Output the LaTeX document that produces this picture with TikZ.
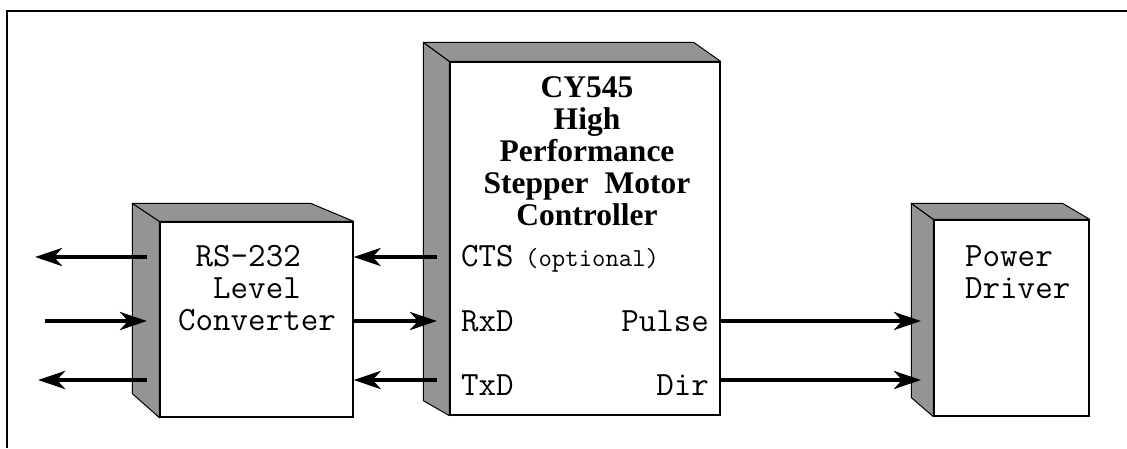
\documentclass[tikz,border=0pt]{standalone}
\usepackage{fontspec}
\setmainfont{Liberation Serif}
\usetikzlibrary{arrows.meta,calc}
\begin{document}
\begin{tikzpicture}[x=1pt,y=-1pt,
  face/.style={draw=black,line width=1.3pt,fill=white,inner sep=0pt},
  sideface/.style={draw=black,line width=1pt,fill=black!42,line join=round},
  arr/.style={line width=4.3pt,-{Stealth[length=27pt,width=18pt,inset=8pt]}},
  mono/.style={font=\ttfamily\fontsize{34}{32}\selectfont,inner sep=0pt},
  small/.style={font=\ttfamily\fontsize{26}{26}\selectfont,inner sep=0pt}]
\useasboundingbox (0,0) rectangle (1127,448);
\fill[white] (0,0) rectangle (1127,448);
\draw[line width=1.2pt] (7,448) -- (7,11) -- (1127,11);

% RS-232 box
\node[face,minimum width=193pt,minimum height=195pt] (rs) at (256.5,319.5) {};
\draw[sideface] (rs.north west) -- ++(-27,-18) -- ($(rs.south west)+(-27,-24)$) -- (rs.south west) -- cycle;
\draw[sideface] (rs.north west) -- ++(-27,-18) -- ($(rs.north east)+(-43,-18)$) -- (rs.north east) -- cycle;

% CY545 box
\node[face,minimum width=270pt,minimum height=353pt] (cy) at (585,238.5) {};
\draw[sideface] (cy.north west) -- ++(-26,-19) -- ($(cy.south west)+(-26,-15)$) -- (cy.south west) -- cycle;
\draw[sideface] (cy.north west) -- ++(-26,-19) -- ($(cy.north east)+(-27,-19)$) -- (cy.north east) -- cycle;

% Power driver box
\node[face,minimum width=155pt,minimum height=196pt] (pd) at (1011.5,318) {};
\draw[sideface] (pd.north west) -- ++(-22,-16) -- ($(pd.south west)+(-22,-19)$) -- (pd.south west) -- cycle;
\draw[sideface] (pd.north west) -- ++(-22,-16) -- ($(pd.north east)+(-27,-16)$) -- (pd.north east) -- cycle;

% texts (base anchor = last line)
\node[mono,align=center,anchor=base] (rst) at (257,330) {RS-232\hphantom{x}\\Level\\Converter};
\node[align=center,anchor=base,inner sep=0pt,font=\bfseries\fontsize{31.5}{31.8}\selectfont] (ttl) at (587,225) {CY545\\High\\Performance\\Stepper\hspace{16pt}Motor\\Controller};
\node[mono,anchor=base west] (cts) at (461,266) {CTS};
\node[small,anchor=base west] (opt) at (525,266) {(optional)};
\node[mono,anchor=base west] (rxd) at (461,331) {RxD};
\node[mono,anchor=base west] (txd) at (461,395) {TxD};
\node[mono,anchor=base east] (pls) at (709,331) {Pulse};
\node[mono,anchor=base east] (dir) at (709,395) {Dir};
\node[mono,align=left,anchor=base west] (pdt) at (965,298) {Power\\Driver};

% rows and anchors
\coordinate (rowA) at (0,257);
\coordinate (rowB) at (0,321);
\coordinate (rowC) at (0,380);
\coordinate (rsS) at (147,0);
\coordinate (cyS) at (437,0);
\coordinate (pdS) at (921,0);
\coordinate (ext1) at (35,257);
\coordinate (ext2) at (45,321);
\coordinate (ext3) at (38,380);

\draw[arr] (rsS |- rowA) -- (ext1);
\draw[arr] (ext2) -- (rsS |- rowB);
\draw[arr] (rsS |- rowC) -- (ext3);
\draw[arr] (cyS |- rowA) -- (rs.east |- rowA);
\draw[arr] (rs.east |- rowB) -- (cyS |- rowB);
\draw[arr] (cyS |- rowC) -- (rs.east |- rowC);
\draw[arr] (cy.east |- rowB) -- (pdS |- rowB);
\draw[arr] (cy.east |- rowC) -- (pdS |- rowC);
\end{tikzpicture}
\end{document}
